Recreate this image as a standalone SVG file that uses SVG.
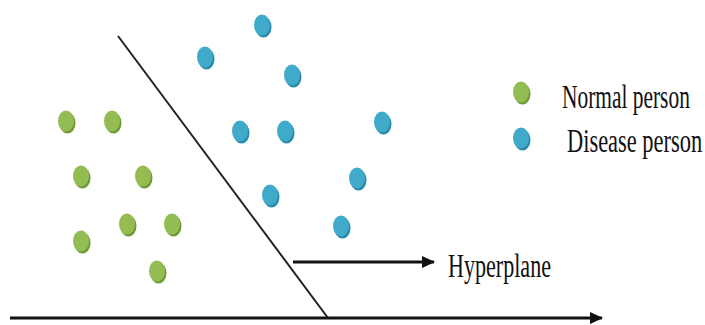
<svg xmlns="http://www.w3.org/2000/svg" width="705" height="325" viewBox="0 0 705 325">
<style>
.g{--s:#6e9a36;--f:#93bd52}
.b{--s:#2a88a8;--f:#40aacb}
.ds{fill:var(--s)}.df{fill:var(--f)}
.lbl{font-family:"Liberation Serif","Times New Roman",serif;font-size:34px;fill:#111}
</style>
<defs>
<g id="dot"><ellipse class="ds" cx="1.5" cy="2" rx="8" ry="10.5"/><ellipse class="df" cx="0" cy="0" rx="8" ry="10.5"/></g>
<marker id="ah2" markerWidth="13" markerHeight="12" refX="12" refY="6" orient="auto" markerUnits="userSpaceOnUse" viewBox="0 0 13 12"><path d="M0,0 L13,6 L0,12 Z" fill="#111"/></marker>
</defs>
<rect width="705" height="325" fill="#fff"/>
<g id="connectors">
<line x1="118" y1="36" x2="328" y2="318" stroke="#222" stroke-width="2"/>
<line x1="293" y1="262" x2="434" y2="262" stroke="#111" stroke-width="3" marker-end="url(#ah2)"/>
<line x1="10" y1="318" x2="602" y2="318" stroke="#111" stroke-width="3" marker-end="url(#ah2)"/>
</g>
<g id="normal" class="g">
<use href="#dot" x="66" y="121"/>
<use href="#dot" x="112" y="121"/>
<use href="#dot" x="81" y="176"/>
<use href="#dot" x="143" y="176"/>
<use href="#dot" x="127" y="224"/>
<use href="#dot" x="172" y="224"/>
<use href="#dot" x="81" y="241"/>
<use href="#dot" x="157" y="271"/>
</g>
<g id="disease" class="b">
<use href="#dot" x="262" y="25"/>
<use href="#dot" x="205" y="57"/>
<use href="#dot" x="292" y="75"/>
<use href="#dot" x="240" y="131"/>
<use href="#dot" x="285" y="131"/>
<use href="#dot" x="382" y="122"/>
<use href="#dot" x="357" y="178"/>
<use href="#dot" x="270" y="195"/>
<use href="#dot" x="341" y="226"/>
</g>
<g id="legend-normal" class="g">
<use href="#dot" x="521" y="92"/>
<text class="lbl" transform="translate(562,108) scale(0.63,1)">Normal person</text>
</g>
<g id="legend-disease" class="b">
<use href="#dot" x="521" y="138"/>
<text class="lbl" transform="translate(567,152) scale(0.66,1)">Disease person</text>
</g>
<g id="hyperplane-label">
<text class="lbl" transform="translate(448,277) scale(0.65,1)">Hyperplane</text>
</g>
</svg>
